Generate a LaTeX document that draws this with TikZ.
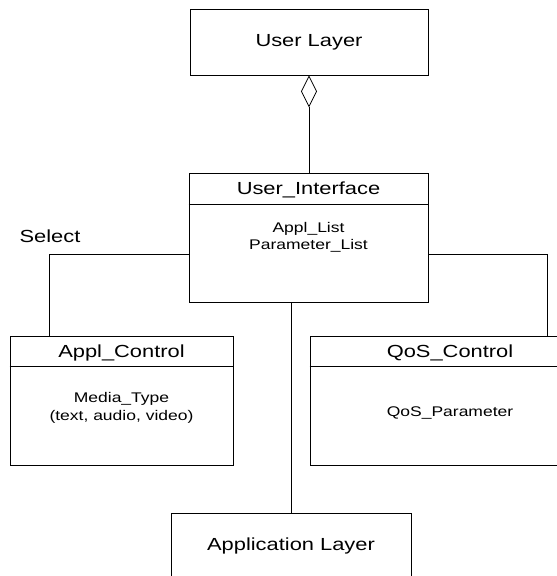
\documentclass[tikz,border=0pt]{standalone}
\usepackage{fontspec}
\setmainfont{Liberation Sans}[FakeStretch=1.25]
\usetikzlibrary{arrows.meta,calc}

\tikzset{
  box/.style={draw, line width=0.8pt, inner sep=0pt},
  title/.style={font=\fontsize{17.5}{21}\selectfont},
  attr/.style={font=\fontsize{14}{17.5}\selectfont, align=center},
  link/.style={line width=0.8pt},
}

\begin{document}
\begin{tikzpicture}[x=1pt, y=1pt]

    \useasboundingbox (0,0) rectangle (557,576);
    \clip (0,0) rectangle (557,576);

    % the two layers
    \node[box, title, minimum width=238pt, minimum height=66pt] (user) at (309,534) {User Layer};
    \node[box, title, minimum width=240pt, minimum height=66pt] (app) at (291,30) {Application Layer};

    % class boxes
    \node[box, minimum width=239pt, minimum height=129pt] (ui) at (308.5,338.5) {};
    \node[box, minimum width=223pt, minimum height=129pt] (appl) at (121.5,175.5) {};
    \node[box, minimum width=280pt, minimum height=129pt] (qos) at (450,175.5) {};

    \draw[link] ($(ui.north west)+(0,-32)$) -- ($(ui.north east)+(0,-32)$);
    \draw[link] ($(appl.north west)+(0,-31)$) -- ($(appl.north east)+(0,-31)$);
    \draw[link] ($(qos.north west)+(0,-31)$) -- ($(qos.north east)+(0,-31)$);

    \node[title] (uiname) at ($(ui.north)+(0,-17)$) {User\_Interface};
    \node[attr] (uiattr) at ($(ui.north)+(0,-64.5)$) {Appl\_List\\Parameter\_List};

    \node[title] (applname) at ($(appl.north)+(0,-17)$) {Appl\_Control};
    \node[attr] (applattr) at ($(appl.north)+(0,-72.5)$) {Media\_Type\\(text, audio, video)};

    \node[title] (qosname) at ($(qos.north)+(0,-17)$) {QoS\_Control};
    \node[attr] (qosattr) at ($(qos.north)+(0,-77)$) {QoS\_Parameter};

    % connectors
    \draw[link, {Diamond[open, length=32pt, width=16pt]}-] (user.south) -- (user.south |- ui.north);
    \draw[link] ($(ui.west)+(0,-16.5)$) -| ($(appl.north west)+(40,0)$);
    \draw[link] ($(ui.east)+(0,-16.5)$) -| ($(qos.north west)+(238,0)$);
    \draw[link] (ui.south -| app.north) -- (app.north);

    \node[title] (select) at (50,340) {Select};

\end{tikzpicture}
\end{document}
